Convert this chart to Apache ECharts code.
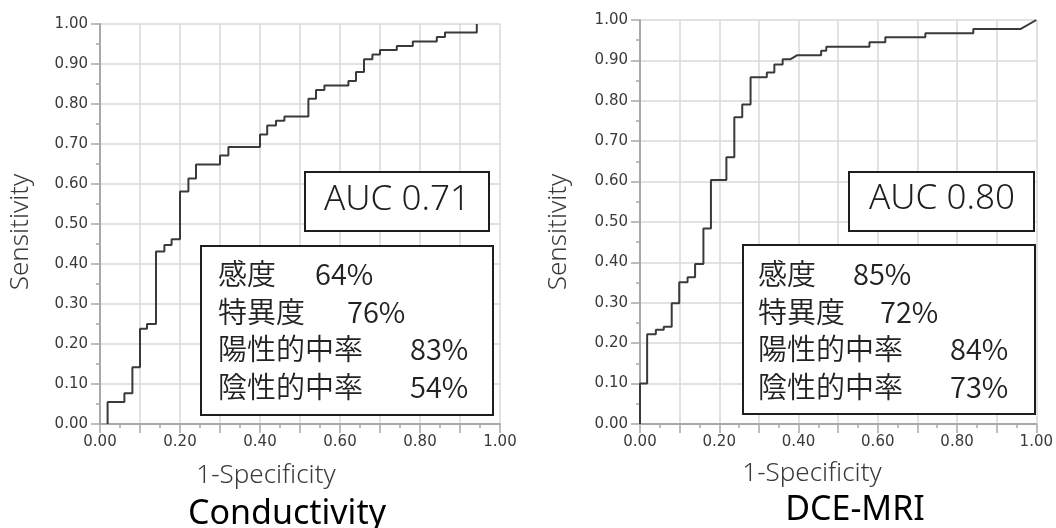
<!DOCTYPE html>
<html>
<head>
<meta charset="utf-8">
<script src="https://cdn.jsdelivr.net/npm/echarts@6/dist/echarts.min.js"></script>
<style>
html,body{margin:0;padding:0;background:#fff;}
#chart{width:1056px;height:528px;}
</style>
</head>
<body>
<div id="chart"></div>
<script>
// ---- Data ----
// Left ROC (Conductivity): step vertices (vertical rise first, then horizontal run)
const leftFpr = [0.019, 0.061, 0.081, 0.100, 0.1175, 0.140, 0.161, 0.179, 0.200, 0.221, 0.240, 0.300, 0.321, 0.400, 0.418, 0.440, 0.461, 0.521, 0.540, 0.561, 0.621, 0.640, 0.660, 0.681, 0.700, 0.742, 0.782, 0.842, 0.8625, 0.942, 0.942];
const leftTpr = [0.000, 0.055, 0.077, 0.142, 0.238, 0.250, 0.431, 0.4475, 0.4617, 0.581, 0.614, 0.649, 0.671, 0.6925, 0.724, 0.746, 0.758, 0.769, 0.813, 0.835, 0.846, 0.8575, 0.880, 0.912, 0.924, 0.935, 0.945, 0.956, 0.9675, 0.979, 1.000];
// Right ROC (DCE-MRI): polyline corners
const rightFpr = [0, 0, 0.018, 0.018, 0.040, 0.040, 0.060, 0.060, 0.080, 0.080, 0.099, 0.099, 0.120, 0.120, 0.139, 0.139, 0.160, 0.160, 0.179, 0.179, 0.218, 0.218, 0.238, 0.238, 0.258, 0.258, 0.279, 0.279, 0.320, 0.320, 0.339, 0.339, 0.360, 0.360, 0.380, 0.397, 0.457, 0.457, 0.470, 0.470, 0.579, 0.579, 0.619, 0.619, 0.720, 0.720, 0.841, 0.841, 0.961, 1.000];
const rightTpr = [0, 0.100, 0.100, 0.222, 0.222, 0.233, 0.233, 0.241, 0.241, 0.299, 0.299, 0.351, 0.351, 0.363, 0.363, 0.396, 0.396, 0.484, 0.484, 0.604, 0.604, 0.660, 0.660, 0.759, 0.759, 0.791, 0.791, 0.858, 0.858, 0.870, 0.870, 0.890, 0.890, 0.903, 0.903, 0.913, 0.913, 0.924, 0.924, 0.934, 0.934, 0.945, 0.945, 0.957, 0.957, 0.967, 0.967, 0.978, 0.978, 1.000];

const yTickLabels = ['0.00','0.10','0.20','0.30','0.40','0.50','0.60','0.70','0.80','0.90','1.00'];
const xTickLabels = ['0.00','','0.20','','0.40','','0.60','','0.80','','1.00'];

const titles = ['Conductivity', 'DCE-MRI'];
const xName = '1-Specificity';
const yName = 'Sensitivity';
const aucTexts = ['AUC 0.71', 'AUC 0.80'];
const statLabels = ['感度', '特異度', '陽性的中率', '陰性的中率'];
const leftStats = ['64%', '76%', '83%', '54%'];
const rightStats = ['85%', '72%', '84%', '73%'];

// ---- Styling / layout ----
const axisGray = '#a8a8a8';
const gridGray = '#d9d9d9';
const labelColor = '#3a3a3a';
const grids = [
  {left: 100, top: 24, width: 400, height: 400},
  {left: 640, top: 20, width: 403, height: 404}
];

function idx(v){ return Math.round(v * 10); }

function makeAxis(i, isX){
  return {
    type: 'value', gridIndex: i, min: 0, max: 1, interval: 0.1,
    axisLine: {show: true, lineStyle: {color: axisGray, width: 2}},
    axisTick: {show: true, length: 9, lineStyle: {color: axisGray, width: 1.5}},
    minorTick: {show: true, splitNumber: 2, length: 4, lineStyle: {color: axisGray, width: 1.5}},
    splitLine: {show: true, lineStyle: {color: gridGray, width: 1.5}},
    axisLabel: {
      show: true, showMinLabel: true, showMaxLabel: true,
      margin: isX ? 11 : 12,
      fontFamily: 'DejaVu Sans', fontSize: 15, color: labelColor,
      formatter: function(v){ return isX ? xTickLabels[idx(v)] : yTickLabels[idx(v)]; }
    }
  };
}

const statLayouts = [
  {box: [201, 246, 292, 169], labelX: 218, valX: [315, 347, 410, 410], auc: [305, 172, 184, 59], aucC: [397, 200]},
  {box: [743, 245, 292, 169], labelX: 758, valX: [853, 880, 950, 950], auc: [849, 172, 185, 59], aucC: [942, 199]}
];
const lineY = [274, 311.5, 349, 386.5];
const statValues = [leftStats, rightStats];

const graphic = [];
statLayouts.forEach(function(L, i){
  graphic.push({type: 'rect', shape: {x: L.auc[0], y: L.auc[1], width: L.auc[2], height: L.auc[3]},
    style: {fill: '#fff', stroke: '#1e1e1e', lineWidth: 2}, z: 10});
  graphic.push({type: 'text', x: L.aucC[0], y: L.aucC[1], z: 11,
    style: {text: aucTexts[i], font: '300 35px "Noto Sans"', fill: '#1e1e1e', align: 'center', verticalAlign: 'middle'}});
  graphic.push({type: 'rect', shape: {x: L.box[0], y: L.box[1], width: L.box[2], height: L.box[3]},
    style: {fill: '#fff', stroke: '#1e1e1e', lineWidth: 2}, z: 10});
  statLabels.forEach(function(lab, k){
    graphic.push({type: 'text', x: L.labelX, y: lineY[k], z: 11,
      style: {text: lab, font: '350 29px "Noto Sans CJK JP"', fill: '#222', align: 'left', verticalAlign: 'middle'}});
    graphic.push({type: 'text', x: L.valX[k], y: lineY[k], z: 11,
      style: {text: statValues[i][k], font: '350 29px "Noto Sans CJK JP"', fill: '#222', align: 'left', verticalAlign: 'middle'}});
  });
});
// axis names and titles
[[21, 232], [559, 232]].forEach(function(p){
  graphic.push({type: 'text', x: p[0], y: p[1], rotation: Math.PI / 2, z: 11,
    style: {text: yName, font: '300 26px "Noto Sans"', fill: labelColor, align: 'center', verticalAlign: 'middle'}});
});
[[266, 476], [812, 474]].forEach(function(p){
  graphic.push({type: 'text', x: p[0], y: p[1], z: 11,
    style: {text: xName, font: '300 26px "Noto Sans"', fill: labelColor, align: 'center', verticalAlign: 'middle'}});
});
[[287, 514, 0], [855, 510, 1]].forEach(function(p){
  graphic.push({type: 'text', x: p[0], y: p[1], z: 11,
    style: {text: titles[p[2]], font: '34px "Noto Sans"', fill: '#000', align: 'center', verticalAlign: 'middle'}});
});

const option = {
  animation: false,
  backgroundColor: '#fff',
  grid: grids,
  xAxis: [makeAxis(0, true), makeAxis(1, true)],
  yAxis: [makeAxis(0, false), makeAxis(1, false)],
  series: [
    {type: 'line', xAxisIndex: 0, yAxisIndex: 0, step: 'start', showSymbol: false, symbol: 'none',
     lineStyle: {color: '#3a3a3a', width: 2}, data: leftFpr.map(function(x, i){ return [x, leftTpr[i]]; })},
    {type: 'line', xAxisIndex: 1, yAxisIndex: 1, showSymbol: false, symbol: 'none',
     lineStyle: {color: '#3a3a3a', width: 2}, data: rightFpr.map(function(x, i){ return [x, rightTpr[i]]; })}
  ],
  graphic: graphic
};

const chart = echarts.init(document.getElementById('chart'), null, {renderer: 'canvas'});
chart.setOption(option);
</script>
</body>
</html>
